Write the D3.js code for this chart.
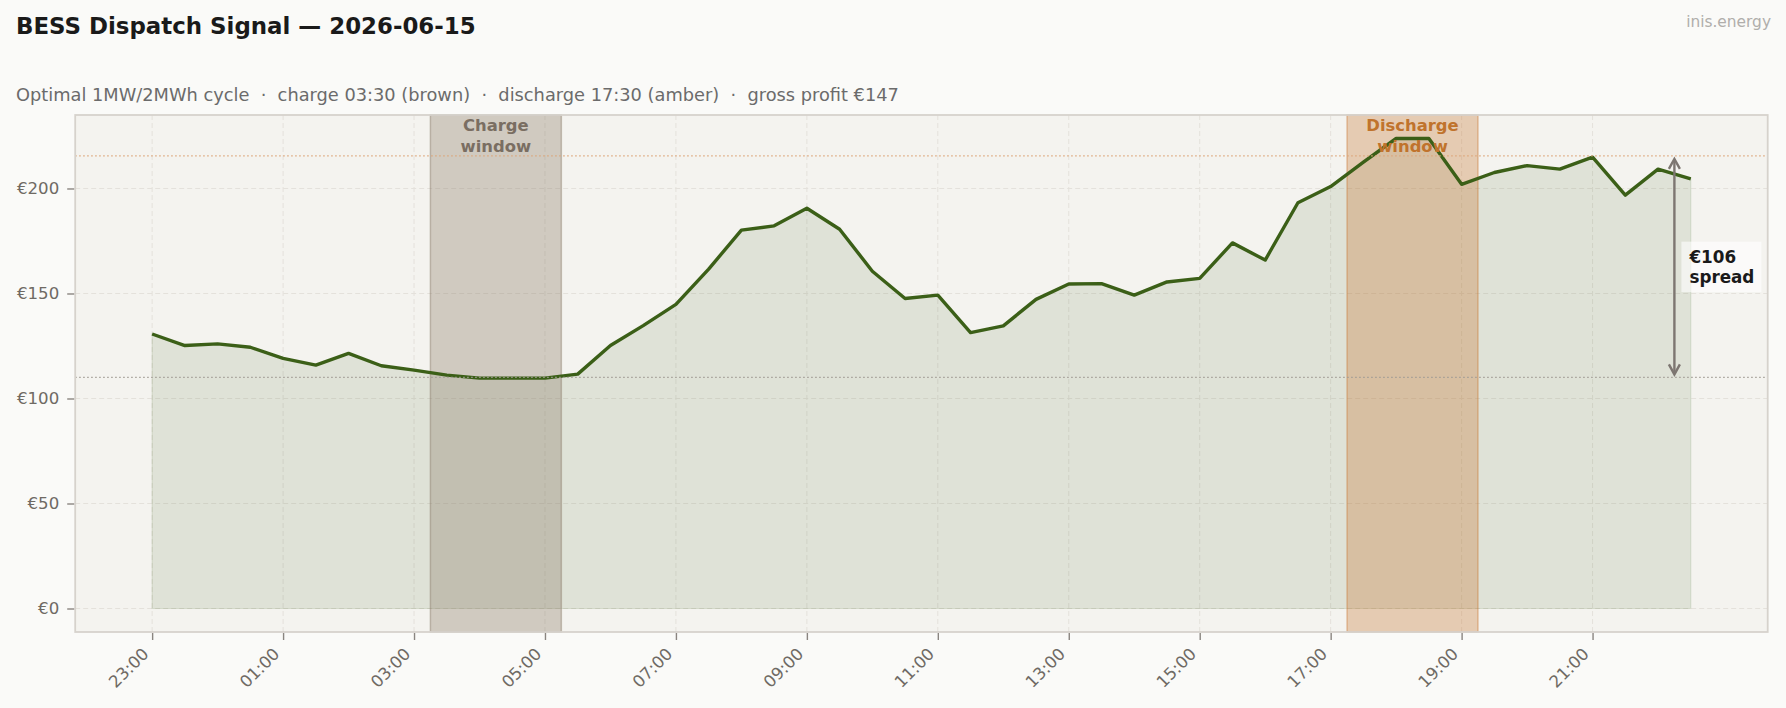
<!DOCTYPE html>
<html><head><meta charset="utf-8">
<script src="https://cdn.jsdelivr.net/npm/d3@7"></script>
<style>
body{margin:0;background:#fafaf8;}
svg{display:block;font-family:"DejaVu Sans",sans-serif;}
</style></head><body>
<svg id="chart" width="1786" height="708"></svg>
<script>
const times = ["23:00","23:30","00:00","00:30","01:00","01:30","02:00","02:30","03:00","03:30","04:00","04:30",
  "05:00","05:30","06:00","06:30","07:00","07:30","08:00","08:30","09:00","09:30","10:00","10:30",
  "11:00","11:30","12:00","12:30","13:00","13:30","14:00","14:30","15:00","15:30","16:00","16:30",
  "17:00","17:30","18:00","18:30","19:00","19:30","20:00","20:30","21:00","21:30","22:00","22:30"];
const prices = [130.7,125.2,126.0,124.4,119.1,115.9,121.5,115.6,113.5,111.1,109.7,109.7,
  109.7,111.6,125.2,134.7,144.8,161.6,180.2,182.2,190.6,180.6,160.6,147.6,
  149.2,131.4,134.6,147.2,154.5,154.7,149.2,155.5,157.2,174.1,165.9,193.2,
  200.9,212.5,223.8,223.8,202.0,207.6,210.9,209.2,214.9,196.8,209.2,204.6];
const xTickLabels = ["23:00","01:00","03:00","05:00","07:00","09:00","11:00","13:00","15:00","17:00","19:00","21:00"];
const yTickValues = [0,50,100,150,200];
const chargeWindow = ["03:15","05:15"];
const dischargeWindow = ["17:15","19:15"];
const chargeLabel = ["Charge","window"];
const dischargeLabel = ["Discharge","window"];
const spreadAt = "22:15";
const spreadLabel = ["€106","spread"];
const titleText = "BESS Dispatch Signal — 2026-06-15";
const subtitleText = "Optimal 1MW/2MWh cycle  ·  charge 03:30 (brown)  ·  discharge 17:30 (amber)  ·  gross profit €147";
const brandText = "inis.energy";

const W = 1786, H = 708;
const m = {left: 75.2, right: 1767.7, top: 115, bottom: 632};
const svg = d3.select("#chart");
svg.append("rect").attr("width", W).attr("height", H).attr("fill", "#fafaf8");

// hours since the first slot (23:00)
const hrs = t => { const [h, mm] = t.split(":").map(Number); return ((h - 23 + 24) % 24) + mm / 60; };
const data = times.map((t, i) => ({t, h: hrs(t), p: prices[i]}));

const span = d3.max(data, d => d.h) - d3.min(data, d => d.h);
const x = d3.scaleLinear().domain([-0.05 * span, span * 1.05]).range([m.left, m.right]);
const pmax = d3.max(prices);
const y = d3.scaleLinear().domain([-0.05 * pmax, pmax * 1.05]).range([m.bottom, m.top]);

const inWin = (w) => data.filter(d => d.h >= hrs(w[0]) && d.h <= hrs(w[1]));
const chargeAvg = d3.mean(inWin(chargeWindow), d => d.p);
const dischargeAvg = d3.mean(inWin(dischargeWindow), d => d.p);

// plot background
svg.append("rect").attr("x", m.left).attr("y", m.top)
  .attr("width", m.right - m.left).attr("height", m.bottom - m.top).attr("fill", "#f4f3ef");

// grid
const grid = svg.append("g").attr("stroke", "#e4e1db").attr("stroke-width", 1).attr("stroke-dasharray", "5,3");
grid.selectAll("line.v").data(xTickLabels).join("line")
  .attr("x1", d => x(hrs(d))).attr("x2", d => x(hrs(d))).attr("y1", m.top).attr("y2", m.bottom);
grid.selectAll("line.h").data(yTickValues).join("line").attr("class","h")
  .attr("x1", m.left).attr("x2", m.right).attr("y1", d => y(d)).attr("y2", d => y(d));

// area
svg.append("path").datum(data)
  .attr("d", d3.area().x(d => x(d.h)).y0(y(0)).y1(d => y(d.p)))
  .attr("fill", "rgba(59,95,23,0.11)").attr("stroke", "rgba(59,95,23,0.12)").attr("stroke-width", 1.2);

// windows
svg.append("rect").attr("x", x(hrs(chargeWindow[0]))).attr("y", m.top)
  .attr("width", x(hrs(chargeWindow[1])) - x(hrs(chargeWindow[0]))).attr("height", m.bottom - m.top)
  .attr("fill", "rgba(139,125,107,0.35)").attr("stroke", "rgba(139,125,107,0.45)").attr("stroke-width", 1.5);
svg.append("rect").attr("x", x(hrs(dischargeWindow[0]))).attr("y", m.top)
  .attr("width", x(hrs(dischargeWindow[1])) - x(hrs(dischargeWindow[0]))).attr("height", m.bottom - m.top)
  .attr("fill", "rgba(200,117,51,0.32)").attr("stroke", "rgba(200,117,51,0.4)").attr("stroke-width", 1.5);

// price line
svg.append("path").datum(data)
  .attr("d", d3.line().x(d => x(d.h)).y(d => y(d.p)))
  .attr("fill", "none").attr("stroke", "#3b5f17").attr("stroke-width", 3.4).attr("stroke-linejoin", "round");

// average lines
svg.append("line").attr("x1", m.left).attr("x2", m.right).attr("y1", y(dischargeAvg)).attr("y2", y(dischargeAvg))
  .attr("stroke", "#dca679").attr("stroke-width", 1.2).attr("stroke-dasharray", "1.5,2.5");
svg.append("line").attr("x1", m.left).attr("x2", m.right).attr("y1", y(chargeAvg)).attr("y2", y(chargeAvg))
  .attr("stroke", "#a19c95").attr("stroke-width", 1.2).attr("stroke-dasharray", "1.5,2.5");

// window labels
function winLabel(w, lines, color) {
  const cx = x((hrs(w[0]) + hrs(w[1])) / 2);
  const t = svg.append("text").attr("text-anchor", "middle").attr("font-weight", "bold")
    .attr("font-size", 16.4).attr("fill", color);
  lines.forEach((l, i) => t.append("tspan").attr("x", cx).attr("y", m.top + 16 + i * 21).text(l));
}
winLabel(chargeWindow, chargeLabel, "#7a6e62");
winLabel(dischargeWindow, dischargeLabel, "#c0732c");

// spread arrow
const ax = x(hrs(spreadAt));
const yTop = y(dischargeAvg) + 3, yBot = y(chargeAvg) - 3;
const ag = svg.append("g").attr("stroke", "#7d7671").attr("stroke-width", 2.4).attr("fill", "none");
ag.append("line").attr("x1", ax).attr("x2", ax).attr("y1", yTop + 1).attr("y2", yBot - 1);
ag.append("path").attr("d", `M${ax-5.5},${yTop+10}L${ax},${yTop}L${ax+5.5},${yTop+10}`);
ag.append("path").attr("d", `M${ax-5.5},${yBot-10}L${ax},${yBot}L${ax+5.5},${yBot-10}`);

const ymid = y((chargeAvg + dischargeAvg) / 2);
const sbox = svg.append("rect").attr("fill", "rgba(255,255,255,0.6)");
const st = svg.append("text").attr("font-weight", "bold").attr("font-size", 16.8).attr("fill", "#1a1a1a");
spreadLabel.forEach((l, i) => st.append("tspan").attr("x", ax + 15).attr("y", ymid - 4 + i * 20.5).text(l));
const bb = st.node().getBBox();
sbox.attr("x", bb.x - 7).attr("y", bb.y - 5).attr("width", bb.width + 14).attr("height", bb.height + 10);

// plot border
svg.append("rect").attr("x", m.left).attr("y", m.top)
  .attr("width", m.right - m.left).attr("height", m.bottom - m.top)
  .attr("fill", "none").attr("stroke", "#d6d2cc").attr("stroke-width", 1.8);

// axes
const yAxis = svg.append("g").attr("transform", `translate(${m.left - 1},0)`)
  .call(d3.axisLeft(y).tickValues(yTickValues).tickFormat(d => "€" + d).tickSize(7).tickPadding(8));
const xAxis = svg.append("g").attr("transform", `translate(0,${m.bottom + 1})`)
  .call(d3.axisBottom(x).tickValues(xTickLabels.map(hrs)).tickFormat((d, i) => xTickLabels[i]).tickSize(7));
[yAxis, xAxis].forEach(a => {
  a.select(".domain").remove();
  a.selectAll(".tick line").attr("stroke", "#8a8580").attr("stroke-width", 1.4);
  a.selectAll(".tick text").attr("fill", "#6f6a64").attr("font-size", 16.6).attr("font-family", "DejaVu Sans");
});
xAxis.selectAll(".tick text").attr("text-anchor", "end").attr("dy", null).attr("y", null)
  .attr("transform", "translate(-3,22) rotate(-45)");

// titles
svg.append("text").attr("x", 16).attr("y", 33.5).attr("font-weight", "bold").attr("font-size", 22.9)
  .attr("fill", "#1a1a1a").text(titleText);
svg.append("text").attr("x", 16).attr("y", 101).attr("font-size", 17.8).attr("fill", "#6b6b6b")
  .style("white-space", "pre").text(subtitleText);
svg.append("text").attr("x", 1771).attr("y", 27).attr("text-anchor", "end").attr("font-size", 15.4)
  .attr("fill", "#b0aeab").text(brandText);
</script>
</body></html>
